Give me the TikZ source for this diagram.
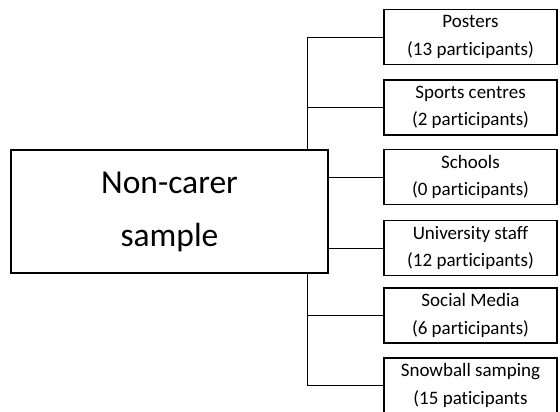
\documentclass[tikz,border=0pt]{standalone}
\usepackage{fontspec}
\setmainfont[Ligatures=NoCommon]{Carlito}
\newcommand{\petit}{\fontsize{19}{27.5}\selectfont}
\newcommand{\grand}{\fontsize{33.5}{53}\selectfont}
\tikzset{srcbox/.style={draw,line width=1.8pt,minimum width=173pt,minimum height=55pt,align=center,font=\petit,inner sep=0pt},
  link/.style={line width=0.8pt}}
\begin{document}
\begin{tikzpicture}[x=1pt,y=-1pt]
        \useasboundingbox (0,0) rectangle (560,412);
        \node[draw,line width=1.8pt,minimum width=317pt,minimum height=123pt,align=center,font=\grand] (sample) at (169.5,211.5) {Non-carer\\ sample};
        \coordinate (trunk) at (307,0);
        \node[srcbox] (posters) at (470.5,37) {Posters\\ (13 participants)};
        \draw[link] (trunk |- sample.north) |- (posters.west);
        \node[srcbox] (sports) at (470.5,107.5) {Sports centres\\ (2 participants)};
        \draw[link] (trunk |- sample.north) |- (sports.west);
        \node[srcbox] (schools) at (470.5,177) {Schools\\ (0 participants)};
        \draw[link] (sample.east |- schools.west) -- (schools.west);
        \node[srcbox] (staff) at (470.5,248) {University staff\\ (12 participants)};
        \draw[link] (sample.east |- staff.west) -- (staff.west);
        \node[srcbox] (social) at (470.5,315.5) {Social Media\\ (6 participants)};
        \draw[link] (trunk |- sample.south) |- (social.west);
        \node[srcbox] (snowball) at (470.5,385.5) {Snowball samping\\ (15 paticipants};
        \draw[link] (trunk |- sample.south) |- (snowball.west);
      \end{tikzpicture}
\end{document}
